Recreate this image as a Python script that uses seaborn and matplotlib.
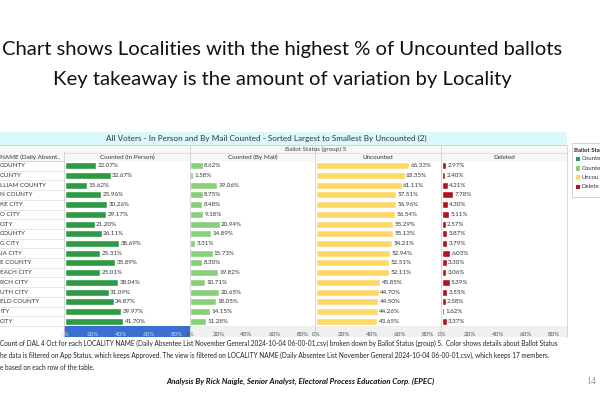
import matplotlib
matplotlib.use("Agg")
import matplotlib.pyplot as plt
import matplotlib.patches as mpatches
import seaborn as sns
import pandas as pd

# ---------------- data ----------------
localities = ["COUNTY", "OUNTY", "LLIAM COUNTY", "N COUNTY", "KE CITY", "O CITY",
              "CITY", " COUNTY", "G CITY", "JA CITY", "E COUNTY", "EACH CITY",
              "RCH CITY", "UTH CITY", "ELD COUNTY", "ITY", " CITY"]
counted_in_person = [22.07, 32.67, 15.62, 25.96, 30.26, 29.17, 21.20, 26.11, 38.69,
                     25.31, 35.89, 25.01, 38.04, 31.09, 34.87, 39.97, 41.70]
counted_by_mail = [8.62, 1.58, 19.06, 8.75, 8.48, 9.18, 20.94, 14.89, 3.31,
                   15.73, 8.30, 19.82, 10.71, 20.65, 18.05, 14.15, 11.28]
uncounted = [66.33, 63.35, 61.11, 57.51, 56.96, 56.54, 55.29, 55.13, 54.21,
             52.94, 52.51, 52.11, 45.85, 44.70, 44.50, 44.26, 43.65]
deleted = [2.97, 2.40, 4.21, 7.78, 4.30, 5.11, 2.57, 3.87, 3.79,
           6.03, 3.30, 3.06, 5.39, 3.55, 2.58, 1.62, 3.37]
statuses = ["Counted (In Person)", "Counted (By Mail)", "Uncounted", "Deleted"]
legend_title = "Ballot Sta"
legend_labels = ["Counte", "Counte", "Uncou", "Delete"]
tick_values = [0, 20, 40, 60, 80]
tick_labels = ["0%", "20%", "40%", "60%", "80%"]

colors = ["#2e9a44", "#87cf79", "#fed867", "#b5111c"]

df = pd.DataFrame({"Locality": localities,
                   statuses[0]: counted_in_person,
                   statuses[1]: counted_by_mail,
                   statuses[2]: uncounted,
                   statuses[3]: deleted})

sns.set_theme(style="white")
plt.rcParams["font.family"] = ["Lato", "DejaVu Sans"]

W, H = 600, 400
fig = plt.figure(figsize=(6, 4), dpi=100)
fig.patch.set_facecolor("white")

FS = 4.5


def fx(x):
    return x / W


def fy(y):
    return 1 - y / H


def rect(x0, y0, x1, y1, fc, ec="none", lw=0.0, z=-1):
    fig.patches.append(mpatches.Rectangle((fx(x0), fy(y1)), fx(x1) - fx(x0), fy(y0) - fy(y1),
                                          transform=fig.transFigure, facecolor=fc,
                                          edgecolor=ec, linewidth=lw, zorder=z))


def hline(x0, x1, y, color="#d9d9d9", lw=0.6):
    fig.add_artist(plt.Line2D([fx(x0), fx(x1)], [fy(y), fy(y)], transform=fig.transFigure,
                              color=color, linewidth=lw, zorder=-0.5))


def vline(x, y0, y1, color="#d0d0d0", lw=0.6):
    fig.add_artist(plt.Line2D([fx(x), fx(x)], [fy(y0), fy(y1)], transform=fig.transFigure,
                              color=color, linewidth=lw, zorder=2))


# ---------------- titles ----------------
fig.text(fx(282), fy(49), "Chart shows Localities with the highest % of Uncounted ballots",
         ha="center", va="center", fontsize=14.6, color="#111111")
fig.text(fx(282), fy(79), "Key takeaway is the amount of variation by Locality",
         ha="center", va="center", fontsize=14.6, color="#111111")

# ---------------- table header ----------------
rect(0, 132, 567, 145, "#dbf9fd")
fig.text(fx(266), fy(138.5),
         "All Voters - In Person and By Mail Counted - Sorted Largest to Smallest By Uncounted (2)",
         ha="center", va="center", fontsize=5.85, color="#333333")
rect(0, 145, 567, 161, "#f7f7f7")
hline(64, 567, 152.5, color="#dddddd")
hline(0, 567, 161, color="#cccccc")
hline(0, 567, 145, color="#cccccc")
fig.text(fx(315.5), fy(149), "Ballot Status (group) 5", ha="center", va="center",
         fontsize=FS, color="#444444")
fig.text(fx(0), fy(157), "NAME (Daily Absent..", ha="left", va="center",
         fontsize=FS, color="#333333")

panel_x = [64, 189.5, 315, 441]
panel_w = 126
top, bottom = 161, 326

for i, (status, col) in enumerate(zip(statuses, colors)):
    x0 = panel_x[i]
    fig.text(fx(x0 + panel_w / 2), fy(157), status, ha="center", va="center",
             fontsize=FS, color="#333333")
    ax = fig.add_axes([fx(x0), fy(bottom), panel_w / W, (bottom - top) / H])
    sns.barplot(data=df, y="Locality", x=status, ax=ax, color=col, orient="h",
                width=0.72, saturation=1, order=localities)
    ax.set_xlim(-0.7, 89.3)
    ax.set_ylim(len(localities) - 0.5, -0.5)
    ax.bar_label(ax.containers[0], labels=[f"{v:.2f}%" for v in df[status]],
                 padding=1, fontsize=FS, color="#333333")
    ax.set_xlabel("")
    ax.set_ylabel("")
    ax.set_yticks([])
    for s in ax.spines.values():
        s.set_visible(False)
    ax.set_facecolor("white")
    ax.set_xticks(tick_values)
    ax.set_xticklabels(tick_labels)
    if i == 0:
        band, tcol = "#3b6fcf", "#c9d9f7"
    else:
        band, tcol = "#f0f0f0", "#555555"
    rect(x0, bottom, x0 + panel_w, 337, band)
    ax.tick_params(axis="x", length=2, width=0.5, color="#bbbbbb", pad=2.5,
                   labelsize=FS, labelcolor=tcol, direction="out")

for xv in [64, 189.5, 315, 441, 567]:
    vline(xv, 145 if xv > 64 else 152, 337)

# ---------------- row labels ----------------
row_h = (bottom - top) / len(localities)
for j, name in enumerate(localities):
    yc = top + (j + 0.5) * row_h
    fig.text(fx(0), fy(yc), name.strip(), ha="left", va="center",
             fontsize=FS, color="#333333")
    hline(0, 64, top + (j + 1) * row_h, color="#dddddd", lw=0.5)

# ---------------- legend ----------------
rect(572, 143, 610, 197, "white", ec="#cccccc", lw=0.6)
fig.text(fx(574.5), fy(150), legend_title, ha="left", va="center",
         fontsize=4.3, fontweight="bold", color="#222222")
for k, (lab, col) in enumerate(zip(legend_labels, colors)):
    yc = 159 + k * 9.3
    rect(575.5, yc - 2.3, 580, yc + 2.3, col, z=1)
    fig.text(fx(581.5), fy(yc), lab, ha="left", va="center", fontsize=4.3, color="#333333")

# ---------------- footer ----------------
footer = [
    "Count of DAL 4 Oct for each LOCALITY NAME (Daily Absentee List November General 2024-10-04 06-00-01.csv) broken down by Ballot Status (group) 5.  Color shows details about Ballot Status",
    "he data is filtered on App Status, which keeps Approved. The view is filtered on LOCALITY NAME (Daily Absentee List November General 2024-10-04 06-00-01.csv), which keeps 17 members.",
    "e based on each row of the table.",
]
for k, line in enumerate(footer):
    fig.text(fx(0), fy(343 + k * 12), line, ha="left", va="center", fontsize=4.7, color="#222222")

fig.text(fx(300), fy(381), "Analysis By Rick Naigle, Senior Analyst, Electoral Process Education Corp. (EPEC)",
         ha="center", va="center", fontsize=5.7, fontweight="bold", fontstyle="italic",
         color="#111111")
fig.text(fx(586), fy(381), "14", ha="left", va="center", fontsize=7,
         family=["Liberation Serif"], color="#999999")

fig.savefig("out.png", dpi=100)
